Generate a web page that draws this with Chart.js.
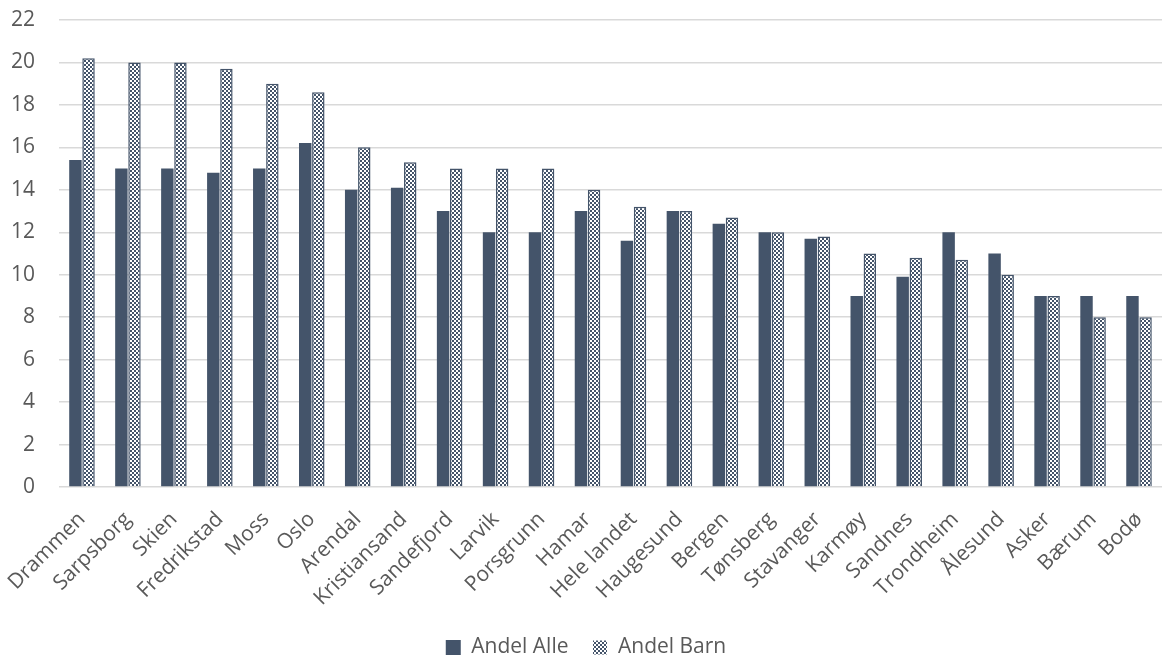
<!DOCTYPE html>
<html>
<head>
<meta charset="utf-8">
<script src="https://cdn.jsdelivr.net/npm/chart.js@4"></script>
<style>
  html, body { margin: 0; padding: 0; background: #fff; }
  #wrap { width: 1162px; height: 657px; }
</style>
</head>
<body>
<div id="wrap"><canvas id="chart" width="1162" height="657"></canvas></div>
<script>
// Byer sortert etter andel barn
const categories = ['Drammen', 'Sarpsborg', 'Skien', 'Fredrikstad', 'Moss', 'Oslo', 'Arendal',
    'Kristiansand', 'Sandefjord', 'Larvik', 'Porsgrunn', 'Hamar', 'Hele landet', 'Haugesund',
    'Bergen', 'Tønsberg', 'Stavanger', 'Karmøy', 'Sandnes', 'Trondheim', 'Ålesund', 'Asker',
    'Bærum', 'Bodø'];
const andelAlle = [15.4, 15.0, 15.0, 14.8, 15.0, 16.2, 14.0, 14.1, 13.0, 12.0, 12.0, 13.0, 11.6,
    13.0, 12.4, 12.0, 11.7, 9.0, 9.9, 12.0, 11.0, 9.0, 9.0, 9.0];
const andelBarn = [20.2, 20.0, 20.0, 19.7, 19.0, 18.6, 16.0, 15.3, 15.0, 15.0, 15.0, 14.0, 13.2,
    13.0, 12.7, 12.0, 11.8, 11.0, 10.8, 10.7, 10.0, 9.0, 8.0, 8.0];
const yTicks = [0, 2, 4, 6, 8, 10, 12, 14, 16, 18, 20, 22];

const DARK = '#44546A';
const TEXT = '#595959';
const FONT = 'Open Sans';

// Small checkerboard fill, like Excel's pattern
function checkerPattern() {
    const c = document.createElement('canvas');
    c.width = 4; c.height = 4;
    const g = c.getContext('2d');
    g.fillStyle = '#ffffff';
    g.fillRect(0, 0, 4, 4);
    g.fillStyle = DARK;
    g.fillRect(0, 0, 2, 2);
    g.fillRect(2, 2, 2, 2);
    return g.createPattern(c, 'repeat');
}

const ctx = document.getElementById('chart').getContext('2d');
const pattern = checkerPattern();

new Chart(ctx, {
    type: 'bar',
    data: {
        labels: categories,
        datasets: [
            {
                label: 'Andel Alle',
                data: andelAlle,
                backgroundColor: DARK,
                borderColor: DARK,
                borderWidth: 0,
                categoryPercentage: 0.57,
                barPercentage: 0.95
            },
            {
                label: 'Andel Barn',
                data: andelBarn,
                backgroundColor: pattern,
                borderColor: DARK,
                borderWidth: 1.5,
                categoryPercentage: 0.57,
                barPercentage: 0.95
            }
        ]
    },
    options: {
        responsive: false,
        animation: false,
        layout: { padding: { top: 0, right: 0, left: 10, bottom: -11 } },
        plugins: {
            legend: {
                position: 'bottom',
                labels: {
                    color: TEXT,
                    font: { family: FONT, size: 21 },
                    boxWidth: 15,
                    boxHeight: 15,
                    padding: 24,
                    generateLabels(chart) {
                        return chart.data.datasets.map((ds, i) => ({
                            text: ds.label,
                            fillStyle: ds.backgroundColor,
                            strokeStyle: i === 0 ? DARK : '#ffffff',
                            lineWidth: i === 0 ? 0 : 1,
                            fontColor: TEXT,
                            datasetIndex: i
                        }));
                    }
                }
            },
            tooltip: { enabled: false }
        },
        scales: {
            x: {
                grid: { display: false },
                border: { display: false },
                ticks: {
                    color: TEXT,
                    font: { family: FONT, size: 21 },
                    minRotation: 45,
                    maxRotation: 45,
                    autoSkip: false,
                    padding: 12
                },
                afterFit(axis) {
                    axis.paddingLeft = 0;
                    axis.paddingRight = 0;
                    axis.height = 126;
                }
            },
            y: {
                min: 0,
                max: 22,
                afterBuildTicks(axis) {
                    axis.ticks = yTicks.map(v => ({ value: v }));
                },
                afterFit(axis) {
                    axis.width = 49;
                    axis.paddingTop = 20;
                    axis.paddingBottom = 0;
                },
                grid: { color: '#D9D9D9', lineWidth: 1.5, drawTicks: false },
                border: { display: false },
                ticks: {
                    color: TEXT,
                    font: { family: FONT, size: 21 },
                    padding: 24
                }
            }
        }
    }
});
</script>
</body>
</html>
